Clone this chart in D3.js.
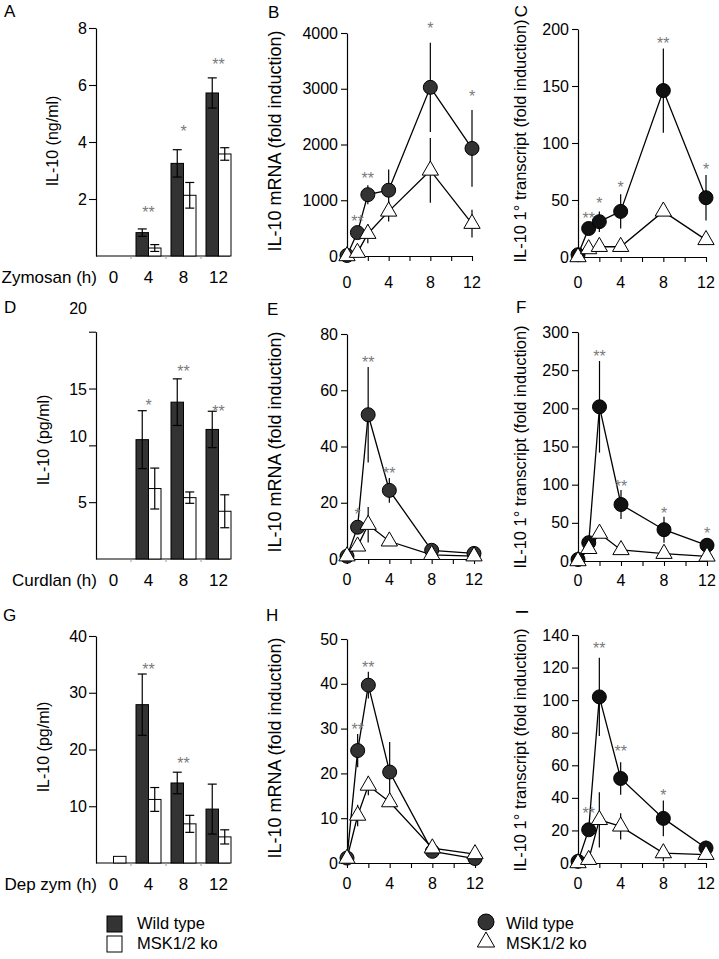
<!DOCTYPE html>
<html><head><meta charset="utf-8">
<script src="https://cdn.jsdelivr.net/npm/d3@7"></script>
<style>
body{margin:0;background:#fff}
text{font-family:"Liberation Sans",Arial,sans-serif;fill:#000}
</style>
</head><body>
<svg id="c" width="719" height="959"></svg>
<script>
// ---------- DATA ----------
const barTimes = [0, 4, 8, 12];
const lineTimes = [0, 1, 2, 4, 8, 12];
const lineTickTimes = [0, 2, 4, 6, 8, 10, 12];
const lineLabelTimes = [0, 4, 8, 12];

// Panel A: IL-10 (ng/ml), Zymosan
const aWT = [0, 0.82, 3.25, 5.72];
const aWTerr = [0, 0.13, 0.48, 0.53];
const aKO = [0, 0.28, 2.13, 3.58];
const aKOerr = [0, 0.12, 0.45, 0.22];
const aStars = ["", "**", "*", "**"];
const aStarAt = [0, 1.65, 4.5, 6.85];
const aTicks = [2, 4, 6, 8];

// Panel B: IL-10 mRNA, Zymosan
const bWT = [10, 420, 1100, 1180, 3025, 1930];
const bWTerr = [0, 80, 170, 370, 800, 690];
const bKO = [0, 60, 400, 800, 1535, 580];
const bKOerr = [0, 20, 170, 180, 580, 250];
const bStars = ["", "**", "**", "", "*", "*"];
const bStarAt = [0, 680, 1450, 0, 4150, 2920];
const bTicks = [0, 1000, 2000, 3000, 4000];

// Panel C: IL-10 1° transcript, Zymosan
const cWT = [2, 25, 31, 40, 146, 52];
const cWTerr = [0, 3, 9, 15, 37, 20];
const cKO = [0, 7, 9, 9, 40, 15];
const cKOerr = [0, 1, 3, 3, 3, 4];
const cStars = ["", "**", "*", "*", "**", "*"];
const cStarAt = [0, 36.5, 50, 64, 190, 80];
const cTicks = [0, 50, 100, 150, 200];

// Panel D: IL-10 (pg/ml), Curdlan
const dWT = [0, 10.5, 13.8, 11.4];
const dWTerr = [0, 2.55, 2.05, 1.6];
const dKO = [0, 6.2, 5.4, 4.2];
const dKOerr = [0, 1.8, 0.5, 1.45];
const dStars = ["", "*", "**", "**"];
const dStarAt = [0, 13.8, 16.8, 13.3];
const dTicks = [5, 10, 15, 20];

// Panel E: IL-10 mRNA, Curdlan
const eWT = [1, 11.3, 51.3, 24.4, 3.1, 2];
const eWTerr = [0, 2, 17, 4.4, 0.5, 0.3];
const eKO = [1, 4.5, 12.2, 6.3, 1.5, 1];
const eKOerr = [0, 0.7, 6.3, 0.8, 0.3, 0.2];
const eStars = ["", "*", "**", "**", "", ""];
const eStarAt = [0, 17, 71, 31.8, 0, 0];
const eTicks = [0, 20, 40, 60, 80];

// Panel F: IL-10 1° transcript, Curdlan
const fWT = [2, 24, 202, 74, 41, 20.6];
const fWTerr = [0, 4, 60, 19, 17, 8.5];
const fKO = [0, 16, 36, 14.5, 9.6, 6];
const fKOerr = [0, 2, 4, 2, 2, 1.5];
const fStars = ["", "", "**", "**", "*", "*"];
const fStarAt = [0, 0, 273, 102, 67, 41];
const fTicks = [0, 50, 100, 150, 200, 250, 300];

// Panel G: IL-10 (pg/ml), Depleted zymosan
const gWT = [0, 27.9, 14.1, 9.5];
const gWTerr = [0, 5.4, 1.9, 4.4];
const gKO = [1.17, 11.2, 6.9, 4.6];
const gKOerr = [0, 2.1, 1.5, 1.25];
const gStars = ["", "**", "**", ""];
const gStarAt = [0, 34.8, 18.2, 0];
const gTicks = [10, 20, 30, 40];

// Panel H: IL-10 mRNA, Depleted zymosan
const hWT = [1.1, 25.1, 39.7, 20.3, 2.6, 1];
const hWTerr = [0, 3.7, 3.0, 6.7, 0.4, 0.2];
const hKO = [1, 10.6, 17.3, 13.6, 3.3, 2];
const hKOerr = [0, 2.4, 2.2, 1, 0.3, 0.2];
const hStars = ["", "**", "**", "", "", ""];
const hStarAt = [0, 30.5, 44.5, 0, 0, 0];
const hTicks = [0, 10, 20, 30, 40, 50];

// Panel I: IL-10 1° transcript, Depleted zymosan
const iWT = [1, 20.4, 102, 51.9, 27.4, 9.2];
const iWTerr = [0, 3, 24, 10, 11, 4.5];
const iKO = [0, 2, 26.5, 22.5, 6.1, 5.1];
const iKOerr = [0, 1, 17, 8, 5, 1];
const iStars = ["", "**", "**", "**", "*", ""];
const iStarAt = [0, 32.5, 133.8, 70.5, 43.9, 0];
const iTicks = [0, 20, 40, 60, 80, 100, 120, 140];

const legendLabels = ["Wild type", "MSK1/2 ko"];

// ---------- DRAW ----------
const svg = d3.select("#c");
const FONT = 16;
const STAR = "#7a7a7a";

function styleAxis(g) {
  g.selectAll("path.domain").attr("stroke", "#000").attr("stroke-width", 1.2);
  g.selectAll(".tick line").attr("stroke", "#000").attr("stroke-width", 1.1);
  g.selectAll(".tick text").attr("font-size", FONT).attr("fill", "#000")
    .attr("font-family", '"Liberation Sans", Arial, sans-serif');
}

function letter(txt, x, y, rot) {
  const t = svg.append("text").attr("font-size", 17).text(txt);
  if (rot) t.attr("transform", `translate(${x},${y}) rotate(-90)`).attr("text-anchor", "middle").attr("dy", "0.35em");
  else t.attr("x", x).attr("y", y);
}

function yLabel(txt, x, y, size) {
  svg.append("text").attr("transform", `translate(${x},${y}) rotate(-90)`)
    .attr("text-anchor", "middle").attr("dy", "0.35em").attr("font-size", size || FONT).text(txt);
}

function barPanel(cfg) {
  const g = svg.append("g");
  const x = d3.scaleBand().domain(barTimes).range([cfg.x0, cfg.x0 + 140]);
  const y = d3.scaleLinear().domain([0, cfg.yMax]).range([cfg.yBase, cfg.yTop]);
  const bw = 12.5;
  const ya = g.append("g").attr("transform", `translate(${cfg.x0},0)`)
    .call(d3.axisLeft(y).tickValues(cfg.ticks).tickSize(7).tickSizeOuter(0).tickPadding(2).tickFormat(d3.format("d")));
  styleAxis(ya);
  if (cfg.nudge) {
    ya.selectAll(".tick text").attr("dy", d => (cfg.nudge[d] || 0) + 5.5);
  }
  g.append("line").attr("x1", cfg.x0).attr("x2", cfg.x0 + 134)
    .attr("y1", cfg.yBase).attr("y2", cfg.yBase).attr("stroke", "#000").attr("stroke-width", 1.2);
  barTimes.slice(1).forEach(t => {
    g.append("line").attr("x1", x(t)).attr("x2", x(t)).attr("y1", cfg.yBase).attr("y2", cfg.yBase + 3)
      .attr("stroke", "#999").attr("stroke-width", 1);
  });
  barTimes.forEach(t => {
    g.append("text").attr("x", x(t) + x.bandwidth() / 2).attr("y", cfg.yBase + 27)
      .attr("text-anchor", "middle").attr("font-size", 17).text(t);
  });
  g.append("text").attr("x", 97).attr("y", cfg.yBase + 27).attr("text-anchor", "end")
    .attr("font-size", 17).text(cfg.xTitle);

  const series = [
    {v: cfg.wt, e: cfg.wtErr, off: -bw, fill: "#333"},
    {v: cfg.ko, e: cfg.koErr, off: 0, fill: "#fff"}
  ];
  series.forEach(s => {
    g.selectAll(null).data(barTimes.map((t, i) => ({t, v: s.v[i], e: s.e[i]})).filter(d => d.v > 0))
      .join("rect")
      .attr("x", d => x(d.t) + x.bandwidth() / 2 + s.off)
      .attr("y", d => y(d.v)).attr("width", bw).attr("height", d => y(0) - y(d.v))
      .attr("fill", s.fill).attr("stroke", "#000").attr("stroke-width", 1);
  });
  series.forEach(s => {
    barTimes.forEach((t, i) => {
      if (!(s.e[i] > 0)) return;
      const cx = x(t) + x.bandwidth() / 2 + s.off + bw / 2;
      const y1 = y(s.v[i] + s.e[i]), y2 = y(s.v[i] - s.e[i]);
      g.append("line").attr("x1", cx).attr("x2", cx).attr("y1", y1).attr("y2", y2).attr("stroke", "#000").attr("stroke-width", 1.2);
      [y1, y2].forEach(yy => g.append("line").attr("x1", cx - 4.5).attr("x2", cx + 4.5).attr("y1", yy).attr("y2", yy)
        .attr("stroke", "#000").attr("stroke-width", 1.2));
    });
  });
  cfg.stars.forEach((s, i) => {
    if (!s) return;
    g.append("text").attr("x", x(barTimes[i]) + x.bandwidth() / 2).attr("y", y(cfg.starAt[i]) + 9)
      .attr("text-anchor", "middle").attr("font-size", FONT).style("fill", STAR).text(s);
  });
}

function linePanel(cfg) {
  const g = svg.append("g");
  const x = d3.scaleLinear().domain([0, 12]).range([cfg.x0, cfg.x1]);
  const y = d3.scaleLinear().domain([0, cfg.yMax]).range([cfg.yBase, cfg.yTop]);
  const ya = g.append("g").attr("transform", `translate(${cfg.x0},0)`)
    .call(d3.axisLeft(y).tickValues(cfg.ticks).tickSize(6).tickSizeOuter(0).tickPadding(3).tickFormat(d3.format("d")));
  styleAxis(ya);
  const xa = g.append("g").attr("transform", `translate(0,${cfg.yBase})`)
    .call(d3.axisBottom(x).tickValues(lineTickTimes).tickFormat("").tickSize(5).tickSizeOuter(0));
  styleAxis(xa);
  lineLabelTimes.forEach(t => {
    g.append("text").attr("x", x(t)).attr("y", cfg.yBase + cfg.labelDy)
      .attr("text-anchor", "middle").attr("font-size", FONT).text(t);
  });

  const pts = s => lineTimes.map((t, i) => ({t, v: s[i]}));
  [[cfg.ko, cfg.koErr], [cfg.wt, cfg.wtErr]].forEach(([v, e]) => {
    lineTimes.forEach((t, i) => {
      if (!(e[i] > 0)) return;
      g.append("line").attr("x1", x(t)).attr("x2", x(t))
        .attr("y1", y(v[i] + e[i])).attr("y2", y(Math.max(0, v[i] - e[i])))
        .attr("stroke", "#000").attr("stroke-width", 1.2);
    });
  });
  const line = d3.line().x(d => x(d.t)).y(d => y(d.v));
  [cfg.wt, cfg.ko].forEach(s => g.append("path").datum(pts(s)).attr("d", line)
    .attr("fill", "none").attr("stroke", "#000").attr("stroke-width", 1.3));
  g.selectAll(null).data(pts(cfg.wt)).join("circle")
    .attr("cx", d => x(d.t)).attr("cy", d => y(d.v)).attr("r", 7)
    .attr("fill", cfg.dot).attr("stroke", "#000").attr("stroke-width", 1);
  const tri = d3.symbol().type(d3.symbolTriangle).size(115);
  g.selectAll(null).data(pts(cfg.ko)).join("path")
    .attr("transform", d => `translate(${x(d.t)},${y(d.v)})`).attr("d", tri)
    .attr("fill", "#fff").attr("stroke", "#000").attr("stroke-width", 1);
  cfg.stars.forEach((s, i) => {
    if (!s) return;
    g.append("text").attr("x", x(lineTimes[i])).attr("y", y(cfg.starAt[i]) + 9)
      .attr("text-anchor", "middle").attr("font-size", FONT).style("fill", STAR).text(s);
  });
}

// Row 1
barPanel({x0: 96, yBase: 256, yTop: 28, yMax: 8, ticks: aTicks, wt: aWT, wtErr: aWTerr, ko: aKO, koErr: aKOerr,
  stars: aStars, starAt: aStarAt, xTitle: "Zymosan (h)"});
linePanel({x0: 347, x1: 472, yBase: 256, yTop: 33, yMax: 4000, ticks: bTicks, wt: bWT, wtErr: bWTerr, ko: bKO, koErr: bKOerr,
  stars: bStars, starAt: bStarAt, labelDy: 32, dot: "#333"});
linePanel({x0: 578, x1: 706, yBase: 257, yTop: 29, yMax: 200, ticks: cTicks, wt: cWT, wtErr: cWTerr, ko: cKO, koErr: cKOerr,
  stars: cStars, starAt: cStarAt, labelDy: 31, dot: "#111"});
// Row 2
barPanel({x0: 96, yBase: 559, yTop: 331.7, yMax: 20, ticks: dTicks, wt: dWT, wtErr: dWTerr, ko: dKO, koErr: dKOerr,
  stars: dStars, starAt: dStarAt, xTitle: "Curdlan (h)", nudge: {20: -24, 10: -9}});
linePanel({x0: 347, x1: 474, yBase: 559, yTop: 334, yMax: 80, ticks: eTicks, wt: eWT, wtErr: eWTerr, ko: eKO, koErr: eKOerr,
  stars: eStars, starAt: eStarAt, labelDy: 26, dot: "#333"});
linePanel({x0: 578, x1: 707, yBase: 561, yTop: 332, yMax: 300, ticks: fTicks, wt: fWT, wtErr: fWTerr, ko: fKO, koErr: fKOerr,
  stars: fStars, starAt: fStarAt, labelDy: 25, dot: "#111"});
// Row 3
barPanel({x0: 96, yBase: 863, yTop: 636, yMax: 40, ticks: gTicks, wt: gWT, wtErr: gWTerr, ko: gKO, koErr: gKOerr,
  stars: gStars, starAt: gStarAt, xTitle: "Dep zym (h)"});
linePanel({x0: 347, x1: 475, yBase: 863, yTop: 639, yMax: 50, ticks: hTicks, wt: hWT, wtErr: hWTerr, ko: hKO, koErr: hKOerr,
  stars: hStars, starAt: hStarAt, labelDy: 26, dot: "#333"});
linePanel({x0: 578, x1: 706, yBase: 863, yTop: 635, yMax: 140, ticks: iTicks, wt: iWT, wtErr: iWTerr, ko: iKO, koErr: iKOerr,
  stars: iStars, starAt: iStarAt, labelDy: 26, dot: "#111"});

// Axis titles
yLabel("IL-10 (ng/ml)", 52, 141);
yLabel("IL-10 (pg/ml)", 43, 440);
yLabel("IL-10 (pg/ml)", 43, 747);
yLabel("IL-10 mRNA (fold induction)", 275, 141, 18);
yLabel("IL-10 mRNA (fold induction)", 275, 442, 18);
yLabel("IL-10 mRNA (fold induction)", 275, 748, 18);
yLabel("IL-10 1\u00b0 transcript (fold induction)", 520, 141, 16.5);
yLabel("IL-10 1\u00b0 transcript (fold induction)", 520, 447, 16.5);
yLabel("IL-10 1\u00b0 transcript (fold induction)", 520, 750, 16.5);

// Panel letters
letter("A", 4, 17); letter("B", 268, 18); letter("C", 521, 11, true);
letter("D", 4, 313); letter("E", 267, 315); letter("F", 516, 313);
letter("G", 3, 621); letter("H", 266, 621); letter("I", 522, 612, true);

// Legends
const lg = svg.append("g");
[["#333", 916], ["#fff", 936]].forEach(([f, yy]) =>
  lg.append("rect").attr("x", 107).attr("y", yy).attr("width", 15).attr("height", 16)
    .attr("fill", f).attr("stroke", "#000").attr("stroke-width", 1));
legendLabels.forEach((l, i) => lg.append("text").attr("x", 137).attr("y", 929 + i * 20).attr("font-size", 16.5).text(l));
lg.append("circle").attr("cx", 486).attr("cy", 922).attr("r", 8).attr("fill", "#333").attr("stroke", "#000");
lg.append("path").attr("transform", "translate(486,942)").attr("d", d3.symbol().type(d3.symbolTriangle).size(130))
  .attr("fill", "#fff").attr("stroke", "#000");
legendLabels.forEach((l, i) => lg.append("text").attr("x", 506).attr("y", 929 + i * 20).attr("font-size", 16.5).text(l));
</script>
</body></html>
